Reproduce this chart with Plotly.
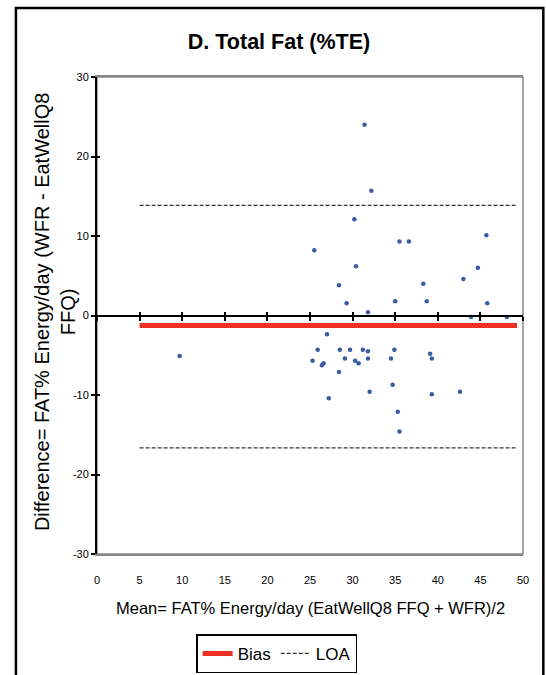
import plotly.graph_objects as go

# ---- data ----
mean_x = [31.4, 32.2, 30.2, 35.5, 36.6, 45.7, 25.5, 30.4, 44.7, 43.0, 28.4, 38.3,
          29.3, 35.0, 38.7, 45.8, 31.8, 43.9, 48.1, 34.7, 27.0, 9.7, 25.9, 28.5,
          29.7, 31.2, 31.8, 34.9, 25.3, 29.1, 30.3, 30.7, 31.8, 34.5, 26.4, 26.6,
          39.1, 39.3, 28.4, 34.7, 32.0, 39.3, 42.6, 27.2, 35.3, 35.5]
diff_y = [24.0, 15.7, 12.1, 9.3, 9.3, 10.1, 8.2, 6.2, 6.0, 4.6, 3.8, 4.0,
          1.55, 1.8, 1.8, 1.55, 0.4, -0.2, -0.2, -1.26, -2.35, -5.1, -4.3, -4.3,
          -4.3, -4.3, -4.5, -4.3, -5.7, -5.4, -5.7, -6.0, -5.4, -5.4, -6.25, -6.0,
          -4.8, -5.4, -7.1, -8.7, -9.6, -9.9, -9.6, -10.4, -12.1, -14.6]
bias = -1.26
loa_upper = 13.84
loa_lower = -16.65
line_x = [5, 49.3]
x_ticks = [0, 5, 10, 15, 20, 25, 30, 35, 40, 45, 50]
x_tick_labels = ["0", "5", "10", "15", "20", "25", "30", "35", "40", "45", "50"]
y_ticks = [-30, -20, -10, 0, 10, 20, 30]
y_tick_labels = ["-30", "-20", "-10", "0", "10", "20", "30"]

W, H = 546, 675
L, R, T, B = 97, 23.3, 77, 121.3
pw, ph = W - L - R, H - T - B

ARIAL = "Liberation Sans, Arial"


def px_x(p):  # page pixel -> paper x
    return (p - L) / pw


def px_y(p):  # page pixel -> paper y
    return 1 - (p - T) / ph


fig = go.Figure()

fig.add_trace(go.Scatter(
    x=mean_x, y=diff_y, mode="markers",
    marker=dict(color="#3A5BA5", size=4.5),
    showlegend=False, xaxis="x", yaxis="y"))

fig.add_trace(go.Scatter(
    x=line_x, y=[bias, bias], mode="lines", name="Bias",
    line=dict(color="#EE3124", width=5), xaxis="x", yaxis="y"))

fig.add_trace(go.Scatter(
    x=line_x + [None] + line_x, y=[loa_upper, loa_upper, None, loa_lower, loa_lower],
    mode="lines", name="LOA",
    line=dict(color="#333333", width=1.2, dash="4px,2px"), xaxis="x", yaxis="y"))

zero_pos = 0.5  # y = 0 is the middle of the y range

xr = [0, 50]
yr = [-30, 30]
tickfont = dict(family=ARIAL, size=11, color="black")

fig.update_layout(
    width=W, height=H,
    margin=dict(l=L, r=R, t=T, b=B, autoexpand=False),
    paper_bgcolor="white", plot_bgcolor="white",
    title=dict(text="<b>D. Total Fat (%TE)</b>", x=279 / W, xref="container",
               xanchor="center", y=1 - 41 / H, yref="container", yanchor="middle",
               font=dict(family=ARIAL, size=21.5, color="black")),
    xaxis=dict(range=xr, tickvals=x_ticks, ticktext=x_tick_labels,
               showgrid=False, zeroline=False,
               showline=True, linecolor="#888888", linewidth=1.5, mirror=True,
               ticks="", ticklabelstandoff=15, tickfont=tickfont,
               automargin=False),
    xaxis2=dict(range=xr, tickvals=x_ticks, overlaying="x", anchor="free",
                position=zero_pos, showgrid=False, zeroline=False,
                showline=True, linecolor="black", linewidth=2,
                ticks="outside", ticklen=4, tickwidth=2, tickcolor="black",
                showticklabels=False),
    xaxis3=dict(range=xr, tickvals=x_ticks, overlaying="x", anchor="free",
                position=zero_pos, showgrid=False, zeroline=False,
                showline=False, ticks="inside", ticklen=4, tickwidth=2,
                tickcolor="black", showticklabels=False),
    yaxis=dict(range=yr, tickvals=y_ticks, ticktext=y_tick_labels,
               showgrid=False, zeroline=False,
               showline=True, linecolor="black", linewidth=2,
               ticks="outside", ticklen=4, tickwidth=2, tickcolor="black",
               tickfont=tickfont, automargin=False),
    yaxis2=dict(range=yr, tickvals=y_ticks, overlaying="y", anchor="x",
                showgrid=False, zeroline=False, showline=False,
                ticks="inside", ticklen=3, tickwidth=2, tickcolor="black",
                showticklabels=False),
    legend=dict(orientation="h", x=px_x(276.5), xanchor="center",
                y=px_y(634), yanchor="top",
                bordercolor="black", borderwidth=1.5, bgcolor="white",
                font=dict(family=ARIAL, size=17, color="black"),
                itemwidth=30, tracegroupgap=0),
    annotations=[
        dict(text="Mean= FAT% Energy/day (EatWellQ8 FFQ + WFR)/2",
             xref="paper", yref="paper", x=px_x(310), y=px_y(608),
             xanchor="center", yanchor="middle", showarrow=False,
             font=dict(family=ARIAL, size=16.5, color="black")),
        dict(text="Difference= FAT% Energy/day (WFR - EatWellQ8<br>FFQ)",
             xref="paper", yref="paper", x=px_x(55), y=px_y(312),
             xanchor="center", yanchor="middle", showarrow=False, textangle=-90,
             font=dict(family=ARIAL, size=20, color="black")),
    ],
    shapes=[
        dict(type="rect", xref="paper", yref="paper",
             x0=px_x(16), x1=px_x(543), y0=px_y(700), y1=px_y(8),
             line=dict(color="black", width=2.5), layer="below"),
        dict(type="rect", xref="paper", yref="paper", x0=0, x1=1, y0=0, y1=1,
             line=dict(color="#888888", width=1.5), layer="below"),
    ],
)

fig.add_trace(go.Scatter(x=[None], y=[None], xaxis="x2", yaxis="y", showlegend=False, hoverinfo="skip"))
fig.add_trace(go.Scatter(x=[None], y=[None], xaxis="x3", yaxis="y", showlegend=False, hoverinfo="skip"))
fig.add_trace(go.Scatter(x=[None], y=[None], xaxis="x", yaxis="y2", showlegend=False, hoverinfo="skip"))

fig.write_html("out.html")
